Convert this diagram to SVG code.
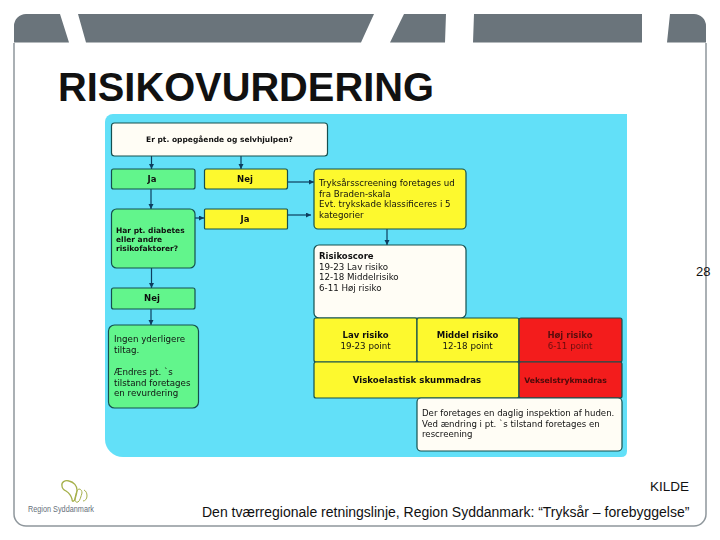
<svg xmlns="http://www.w3.org/2000/svg" width="720" height="540" viewBox="0 0 720 540">
<style>
.b{stroke:#14504f;stroke-width:1.200}
.g{fill:#62f58c}.y{fill:#fdf92e}.r{fill:#f31b1b}.w{fill:#fffdf5}
text{font-family:"DejaVu Sans",sans-serif;font-size:8.700px;fill:#111}
.bd{font-weight:bold;font-size:8.500px}
.s{font-size:7.500px}
.m{text-anchor:middle}
.a{font-family:"Liberation Sans",Arial,sans-serif;font-size:14px;fill:#111}
.c{stroke:#0c3c5e;stroke-width:1.200;fill:none;marker-end:url(#ah)}
</style>
<defs>
<marker id="ah" markerWidth="6" markerHeight="6" refX="5" refY="2.500" orient="auto" markerUnits="userSpaceOnUse"><path d="M0 0L5 2.500L0 5z" fill="#0c3c5e"/></marker>
<filter id="soft" x="0" y="0" width="100%" height="100%"><feGaussianBlur stdDeviation="0.350"/></filter>
</defs>
<rect width="720" height="540" fill="#fff"/>
<g id="frame">
<path d="M14 43V514a12 12 0 0 0 12 12H694a12 12 0 0 0 12-12V43" fill="none" stroke="#8f979c" stroke-width="1.500"/>
<path d="M14 42.500V26a12 12 0 0 1 12-12H60L69 42.500z M78 14H374L361 42.500H86z M404 14H446L445 42.500H390z M474 14H642V42.500H473z M670 14H694a12 12 0 0 1 12 12V42.500H667z" fill="#6a747b"/>
</g>
<text id="title" x="58" y="101" style="font-family:'Liberation Sans',Arial,sans-serif;font-size:39.800px;font-weight:bold">RISIKOVURDERING</text>
<g id="chart" filter="url(#soft)">
<path id="panel" d="M113 114H627V451q0 6-6 6H123a18 18 0 0 1-18-18V122a8 8 0 0 1 8-8z" fill="#62e0f8"/>
<g id="connectors">
<path class="c" d="M151.500 156V169"/>
<path class="c" d="M241 156V169"/>
<path class="c" d="M151 189V209"/>
<path class="c" d="M195 218H204"/>
<path class="c" d="M287 182H314"/>
<path class="c" d="M287 215H311"/>
<path class="c" d="M387 229V245"/>
<path class="c" d="M151.500 268V288"/>
<path class="c" d="M151 309V325"/>
</g>
<g id="n1"><rect class="b w" x="111.500" y="123" width="216" height="33" rx="3"/><text class="bd m s" x="219.500" y="142">Er pt. oppegående og selvhjulpen?</text></g>
<g id="n2"><rect class="b g" x="111.500" y="169" width="83.500" height="20" rx="2"/><text class="bd m" x="152" y="182">Ja</text></g>
<g id="n3"><rect class="b y" x="204.500" y="169" width="83" height="20" rx="2"/><text class="bd m" x="245" y="182">Nej</text></g>
<g id="n4"><rect class="b g" x="111.500" y="209" width="83.500" height="59" rx="5"/><text class="bd s" x="116" y="232.500">Har pt. diabetes</text><text class="bd s" x="116" y="241.500">eller andre</text><text class="bd s" x="116" y="250.500">risikofaktorer?</text></g>
<g id="n5"><rect class="b y" x="204.500" y="209" width="83" height="20" rx="1"/><text class="bd m" x="245" y="222">Ja</text></g>
<g id="n6"><rect class="b g" x="111.500" y="288" width="83.500" height="21" rx="2"/><text class="bd m" x="152" y="301">Nej</text></g>
<g id="n7"><rect class="b g" x="108.500" y="325" width="90" height="83" rx="6"/><text x="114" y="342">Ingen yderligere</text><text x="114" y="353">tiltag.</text><text x="114" y="375">Ændres pt. `s</text><text x="114" y="385.500">tilstand foretages</text><text x="114" y="396">en revurdering</text></g>
<g id="n8"><rect class="b y" x="314" y="169" width="152" height="60" rx="4"/><text x="319" y="186">Tryksårsscreening foretages ud</text><text x="319" y="197">fra Braden-skala</text><text x="319" y="207">Evt. trykskade klassificeres i 5</text><text x="319" y="218">kategorier</text></g>
<g id="n9"><rect class="b w" x="314" y="245" width="152" height="73" rx="5"/><text class="bd" x="319" y="259">Risikoscore</text><text x="319" y="270">19-23 Lav risiko</text><text x="319" y="280">12-18 Middelrisiko</text><text x="319" y="291">6-11 Høj risiko</text></g>
<g id="n10"><rect class="b y" x="314" y="318" width="103" height="44" rx="2"/><text class="bd m" x="365.500" y="338">Lav risiko</text><text class="m" x="365.500" y="349">19-23 point</text></g>
<g id="n11"><rect class="b y" x="417" y="318" width="102" height="44" rx="2"/><text class="bd m" x="467.500" y="338">Middel risiko</text><text class="m" x="467.500" y="349">12-18 point</text></g>
<g id="n12"><rect class="b r" x="519" y="318" width="103" height="44" rx="2"/><text class="bd m" x="570" y="338" style="fill:#5a0f0f">Høj risiko</text><text class="m" x="570" y="349" style="fill:#6a1010">6-11 point</text></g>
<g id="n13"><rect class="b y" x="314" y="362" width="205" height="36" rx="2"/><text class="bd m" x="417" y="383" style="font-size:8.600px">Viskoelastisk skummadras</text></g>
<g id="n14"><rect class="b r" x="519" y="362" width="103" height="36" rx="2"/><text class="bd m" x="565.500" y="383" style="font-size:7.700px;fill:#4a0a0a">Vekselstrykmadras</text></g>
<g id="n15"><rect class="b w" x="417" y="398" width="205" height="53" rx="4"/><text x="422" y="416" style="font-size:8.600px">Der foretages en daglig inspektion af huden.</text><text x="422" y="427" style="font-size:8.600px">Ved ændring i pt. `s tilstand foretages en</text><text x="422" y="437" style="font-size:8.600px">rescreening</text></g>
</g>
<text class="a" x="696" y="276" style="font-size:13px">28</text>
<text class="a" x="650" y="491" style="font-size:13.500px">KILDE</text>
<text class="a" x="202" y="517">Den tværregionale retningslinje, Region Syddanmark: “Tryksår – forebyggelse”</text>
<g id="logo">
<path d="M62 486c-1-4 3-6 7-5 5 1 8 5 8 9 0 3-1 6-2 9-1 3-3 3-3 0-1-4-3-6-6-8-2-1-4-3-4-5z" fill="none" stroke="#a5b04a" stroke-width="1.300"/>
<path d="M79 489c2 0 3 2 3 4-1 3-2 8-4 9-2 1-3-1-3-3 0-3 2-10 4-10z M84 490c2 1 3 3 3 6 0 3-2 5-4 5" fill="none" stroke="#a5b04a" stroke-width="1"/>
<text x="28" y="511.500" textLength="66" lengthAdjust="spacingAndGlyphs" style="font-family:'Liberation Sans',Arial,sans-serif;font-size:9.500px;fill:#66707a">Region Syddanmark</text>
</g>
</svg>
